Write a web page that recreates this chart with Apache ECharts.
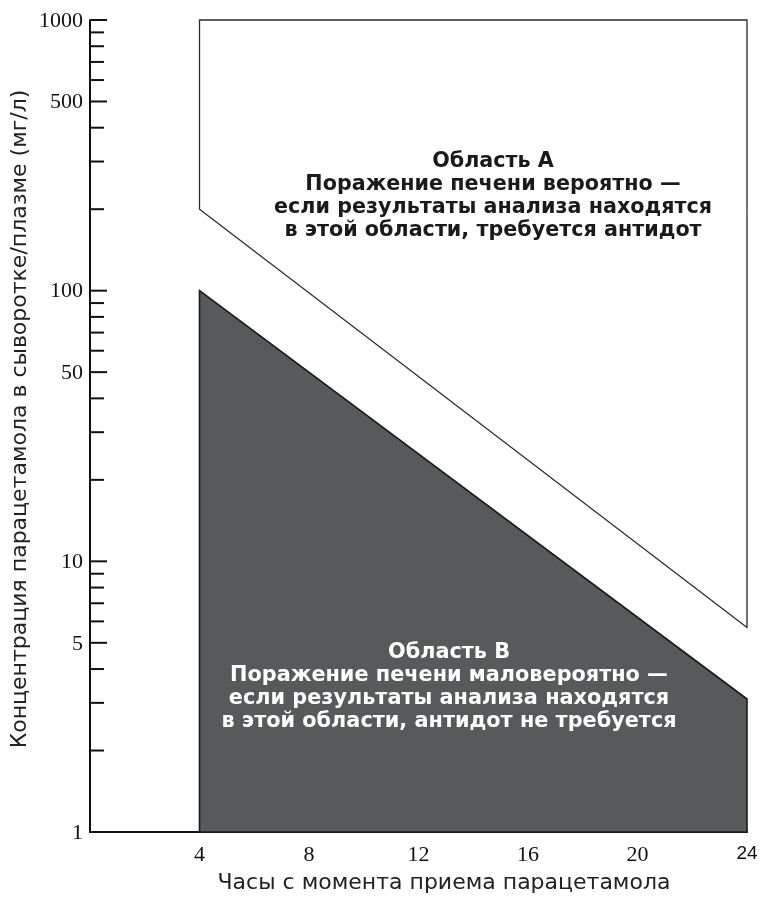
<!DOCTYPE html>
<html>
<head>
<meta charset="utf-8">
<script src="https://cdn.jsdelivr.net/npm/echarts@6/dist/echarts.min.js"></script>
<style>html,body{margin:0;padding:0;background:#fff;}#chart{width:761px;height:910px;}</style>
</head>
<body>
<div id="chart"></div>
<script>
// ---- data ----
var xTickLabels = [4, 8, 12, 16, 20, 24];
var regionAHours = [4, 24, 24, 4];
var regionAConc = [1000, 1000, 5.7, 200];
var regionBHours = [4, 4, 24, 24];
var regionBConc = [1, 100, 3.1, 1];
var yMajorTicks = [1, 5, 10, 50, 100, 500, 1000];
var yMinorTicks = [2, 3, 4, 6, 7, 8, 9, 20, 30, 40, 60, 70, 80, 90, 200, 300, 400, 600, 700, 800, 900];
var yLabeled = [1, 5, 10, 50, 100, 500, 1000];
var textA = ['Область А', 'Поражение печени вероятно —', 'если результаты анализа находятся', 'в этой области, требуется антидот'];
var textB = ['Область В', 'Поражение печени маловероятно —', 'если результаты анализа находятся', 'в этой области, антидот не требуется'];
var xTitle = 'Часы с момента приема парацетамола';
var yTitle = 'Концентрация парацетамола в сыворотке/плазме (мг/л)';

var chart = echarts.init(document.getElementById('chart'));

function polygonSeries(hours, conc, fill, stroke, lw) {
  return {
    type: 'custom',
    data: [[hours[0], conc[0]]],
    silent: true,
    z: 2,
    renderItem: function (params, api) {
      var pts = hours.map(function (h, i) { return api.coord([h, conc[i]]); });
      return {
        type: 'polygon',
        shape: { points: pts },
        style: { fill: fill, stroke: stroke, lineWidth: lw }
      };
    }
  };
}

var tickData = yMajorTicks.map(function (v) { return [0, v, 1]; })
  .concat(yMinorTicks.map(function (v) { return [0, v, 0]; }));

var serifFont = '"Liberation Serif", "DejaVu Serif", serif';
var sansFont = '"DejaVu Sans", "Liberation Sans", sans-serif';

var option = {
  animation: false,
  backgroundColor: '#ffffff',
  grid: { left: 90, right: 14, top: 20, bottom: 78 },
  xAxis: {
    type: 'value', min: 0, max: 24, interval: 4,
    axisLine: { show: true, lineStyle: { color: '#111', width: 2 } },
    axisTick: { show: false },
    splitLine: { show: false },
    axisLabel: {
      margin: 12,
      color: '#111',
      fontFamily: serifFont,
      fontSize: 22,
      formatter: function (v) {
        if (xTickLabels.indexOf(v) < 0) return '';
        if (v === 24) return '{s|24}';
        return String(v);
      },
      rich: { s: { fontFamily: '"Liberation Sans", sans-serif', fontSize: 19, color: '#111' } }
    }
  },
  yAxis: {
    type: 'log', logBase: 10, min: 1, max: 1000,
    axisLine: { show: true, lineStyle: { color: '#111', width: 2 } },
    axisTick: { show: false },
    axisLabel: { show: false },
    splitLine: { show: false }
  },
  series: [
    polygonSeries(regionAHours, regionAConc, '#ffffff', '#2a2a2a', 1.3),
    polygonSeries(regionBHours, regionBConc, '#58595b', '#1a1a1a', 1.6),
    {
      type: 'custom',
      data: tickData,
      silent: true,
      z: 3,
      renderItem: function (params, api) {
        var v = api.value(1);
        var major = api.value(2) === 1;
        var p = api.coord([0, v]);
        var children = [{
          type: 'line',
          shape: { x1: p[0], y1: p[1], x2: p[0] + (major ? 17 : 14), y2: p[1] },
          style: { stroke: '#111', lineWidth: 2 }
        }];
        if (yLabeled.indexOf(v) >= 0) {
          children.push({
            type: 'text',
            style: {
              text: String(v), x: p[0] - 7, y: p[1] + 1,
              textAlign: 'right', textVerticalAlign: 'middle',
              font: '22px ' + serifFont, fill: '#111'
            }
          });
        }
        return { type: 'group', children: children };
      }
    }
  ],
  graphic: {
    elements: [
      {
        type: 'text', x: 493, y: 150, z: 100,
        style: {
          text: textA.join('\n'), textAlign: 'center', textVerticalAlign: 'top',
          font: 'bold 20.7px ' + sansFont, lineHeight: 23, fill: '#1a1a1a'
        }
      },
      {
        type: 'text', x: 449, y: 641, z: 100,
        style: {
          text: textB.join('\n'), textAlign: 'center', textVerticalAlign: 'top',
          font: 'bold 20.8px ' + sansFont, lineHeight: 23, fill: '#ffffff'
        }
      },
      {
        type: 'text', x: 444, y: 883, z: 100,
        style: {
          text: xTitle, textAlign: 'center', textVerticalAlign: 'middle',
          font: '22px ' + sansFont, fill: '#222'
        }
      },
      {
        type: 'text', x: 20, y: 419, rotation: Math.PI / 2, z: 100,
        style: {
          text: yTitle, textAlign: 'center', textVerticalAlign: 'middle',
          font: '22px ' + sansFont, fill: '#222'
        }
      }
    ]
  }
};
chart.setOption(option);
</script>
</body>
</html>
